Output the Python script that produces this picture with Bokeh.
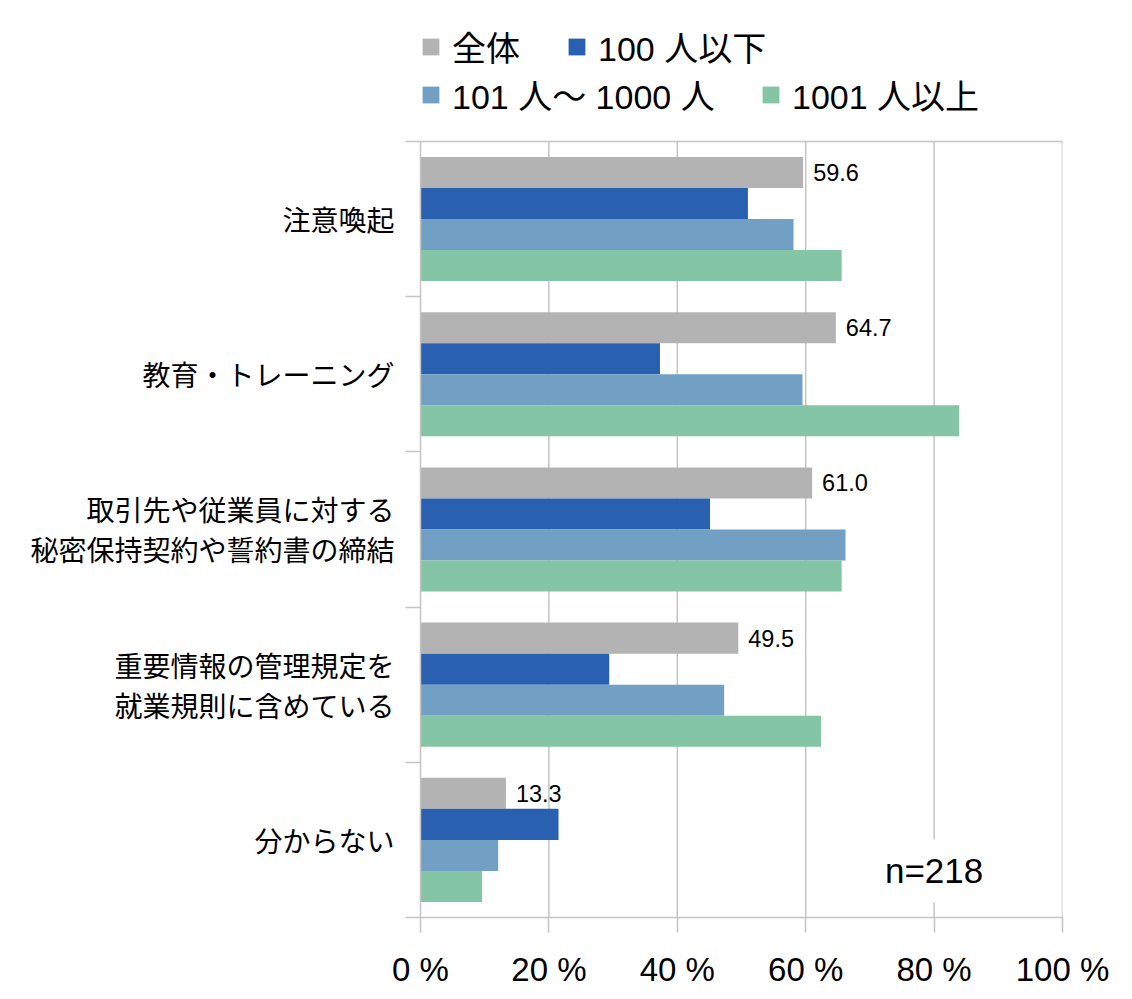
from bokeh.plotting import figure
from bokeh.models import (ColumnDataSource, Range1d, FixedTicker, Legend, LegendItem, Label)
from bokeh.core.properties import value
from bokeh.embed import file_html
from bokeh.resources import INLINE

# ---- data ----
categories = [
    "注意喚起",
    "教育・トレーニング",
    "取引先や従業員に対する\n秘密保持契約や誓約書の締結",
    "重要情報の管理規定を\n就業規則に含めている",
    "分からない",
]
series_names = ["全体", "100 人以下", "101 人〜 1000 人", "1001 人以上"]
total = [59.6, 64.7, 61.0, 49.5, 13.3]
upto100 = [51.0, 37.3, 45.1, 29.4, 21.5]
from101to1000 = [58.1, 59.5, 66.2, 47.3, 12.1]
over1001 = [65.6, 83.9, 65.6, 62.4, 9.6]
x_ticks = [0, 20, 40, 60, 80, 100]
x_tick_labels = ["0 %", "20 %", "40 %", "60 %", "80 %", "100 %"]
sample_note = "n=218"

series_values = [total, upto100, from101to1000, over1001]
colors = ["#b3b3b3", "#2a60b0", "#72a0c5", "#83c5a5"]

n = len(categories)
centers = [n - 0.5 - i for i in range(n)]
bounds = list(range(n + 1))
legend_room = 0.85  # extra room above the bars that holds the legend

LATIN = "Liberation Sans, Noto Sans CJK JP"
CJK = "Noto Sans CJK JP"
GRID = "#c4c4c4"

p = figure(
    frame_width=642, frame_height=908,
    min_border_left=420, min_border_right=55,
    min_border_top=9, min_border_bottom=68,
    x_range=Range1d(0, 100), y_range=Range1d(0, n + legend_room),
    output_backend="svg", toolbar_location=None,
)
p.background_fill_color = "white"
p.border_fill_color = "white"
p.outline_line_color = None

# grid lines (limited to the bar area) and top border
p.xgrid.grid_line_color = None
p.ygrid.ticker = FixedTicker(ticks=[n])
p.ygrid.grid_line_color = GRID
p.ygrid.grid_line_width = 1.5
grid_src = ColumnDataSource(dict(x=x_ticks[1:]))
p.segment(x0="x", y0=0, x1="x", y1=n, source=grid_src,
          line_color=GRID, line_width=1.5)

renderers = []
for j, vals in enumerate(series_values):
    ys = [c + 0.3 - 0.2 * j for c in centers]
    src = ColumnDataSource(dict(y=ys, right=vals))
    r = p.hbar(y="y", left=0, right="right", height=0.2, source=src,
               fill_color=colors[j], line_color=None)
    renderers.append(r)

# value labels for 全体
lab_src = ColumnDataSource(dict(
    x=total,
    y=[c + 0.3 for c in centers],
    t=[f"{v:.1f}" for v in total],
))
p.text(x="x", y="y", text="t", source=lab_src, x_offset=10,
       text_baseline="middle", text_align="left",
       text_font=value("Liberation Sans"), text_font_size="23.5px",
       text_color="black")

# x axis
xa = p.xaxis[0]
xa.ticker = FixedTicker(ticks=x_ticks)
xa.major_label_overrides = {t: l for t, l in zip(x_ticks, x_tick_labels)}
xa.axis_line_color = GRID
xa.axis_line_width = 1.5
xa.major_tick_line_color = GRID
xa.major_tick_line_width = 1.5
xa.major_tick_out = 15
xa.major_tick_in = 0
xa.minor_tick_line_color = None
xa.major_label_standoff = 18
xa.major_label_text_font = LATIN
xa.major_label_text_font_size = "33px"
xa.major_label_text_color = "black"

# y axis
ya = p.yaxis[0]
ya.bounds = (0, n)
ya.ticker = FixedTicker(ticks=centers, minor_ticks=bounds)
ya.major_label_overrides = {c: lab for c, lab in zip(centers, categories)}
ya.axis_line_color = GRID
ya.axis_line_width = 1.5
ya.major_tick_line_color = None
ya.major_tick_out = 0
ya.major_tick_in = 0
ya.minor_tick_line_color = GRID
ya.minor_tick_line_width = 1.5
ya.minor_tick_out = 15
ya.minor_tick_in = 0
ya.major_label_standoff = 11
ya.major_label_text_font = CJK
ya.major_label_text_font_size = "28px"
ya.major_label_text_line_height = 1.0
ya.major_label_text_color = "black"

# legends: four single-item legends laid out as in the original
leg_pos = [(0, 846), (146, 846), (0, 798), (340, 798)]
for j, (vx, vy) in enumerate(leg_pos):
    lg = Legend(items=[LegendItem(label=series_names[j], renderers=[renderers[j]])],
                location=(vx, vy), orientation="horizontal",
                glyph_width=21, glyph_height=21, label_standoff=11,
                padding=0, margin=0, spacing=0,
                border_line_color=None, background_fill_alpha=0,
                label_text_font=LATIN, label_text_font_size="34px",
                label_text_color="black")
    p.add_layout(lg, "center")

# n=218 note
note = Label(x=80, y=0.3, text=sample_note, text_align="center", text_baseline="middle",
             text_font="Liberation Sans", text_font_size="35px",
             text_color="black", background_fill_color="white",
             padding=12)
p.add_layout(note)

open("out.html", "w").write(file_html(p, INLINE))
